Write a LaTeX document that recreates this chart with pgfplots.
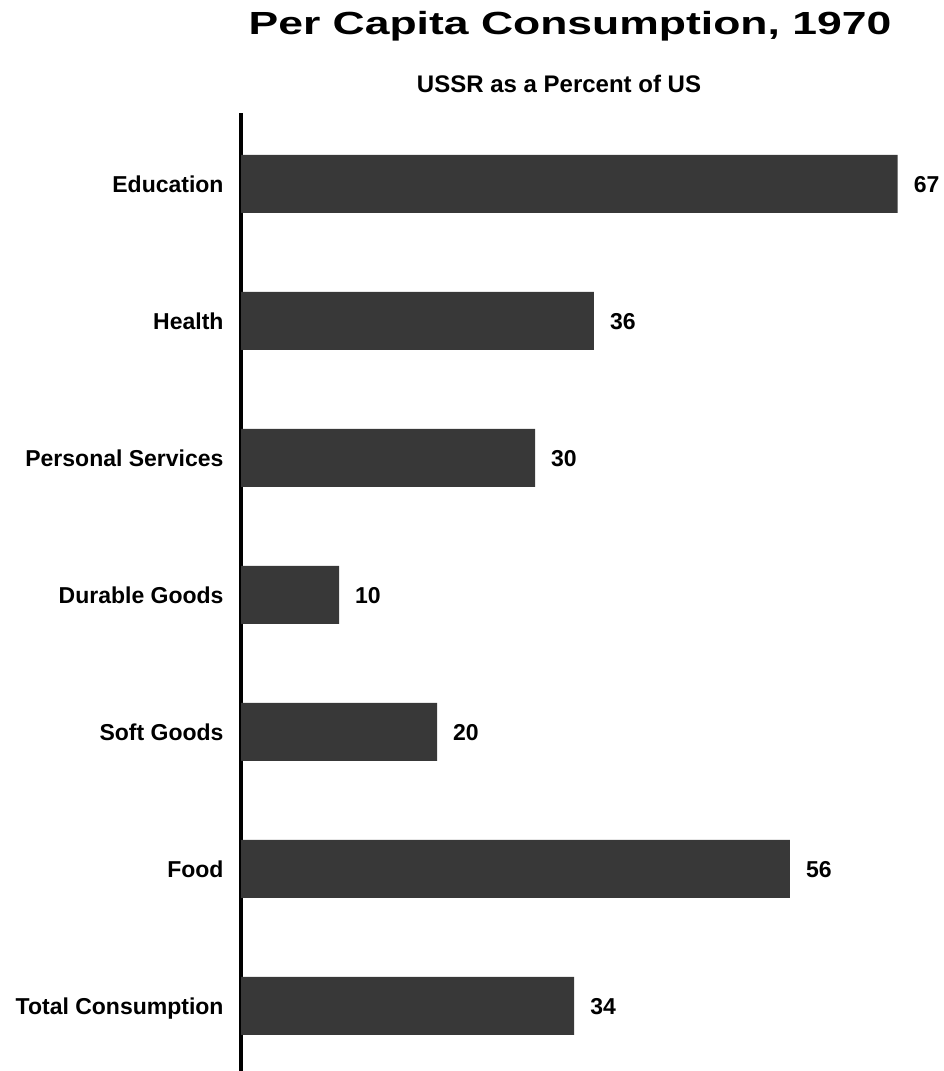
\documentclass[border=0pt]{standalone}
\usepackage{fontspec}
\setmainfont{Liberation Sans}
\usepackage{graphicx}
\usepackage{pgfplots}
\pgfplotsset{compat=1.18}
\begin{document}
\begin{tikzpicture}[x=1pt,y=1pt]
\path[use as bounding box] (0,0) rectangle (943,1071);
\begin{axis}[
  at={(241pt,0pt)}, anchor=south west,
  scale only axis, width=686pt, height=958pt,
  xmin=0, xmax=70, ymin=-0.4745, ymax=6.518,
  clip=false,
  /pgf/number format/assume math mode=true,
  axis x line=none,
  axis y line*=left,
  y axis line style={line width=4pt, -},
  xbar, bar width=58pt,
  ytick={0,...,6},
  yticklabels={Total Consumption, Food, Soft Goods, Durable Goods, Personal Services, Health, Education},
  ytick style={draw=none},
  yticklabel style={font=\fontsize{23}{23}\selectfont\bfseries, inner sep=0pt, anchor=base east, xshift=-13pt, yshift=-8.2pt},
  nodes near coords,
  nodes near coords style={font=\fontsize{23}{23}\selectfont\bfseries, inner sep=0pt, anchor=base west, xshift=16pt, yshift=-8.2pt, text=black},
]
\addplot[fill=black!78, draw=none] coordinates {(34,0) (56,1) (20,2) (10,3) (30,4) (36,5) (67,6)};
\end{axis}
\node[anchor=base, inner sep=0pt] at (570,1036) {\scalebox{1.39}[1]{\fontsize{32}{32}\selectfont\bfseries Per Capita Consumption, 1970}};
\node[anchor=base, inner sep=0pt] at (559,978) {\fontsize{24}{24}\selectfont\bfseries USSR as a Percent of US};
\end{tikzpicture}
\end{document}
